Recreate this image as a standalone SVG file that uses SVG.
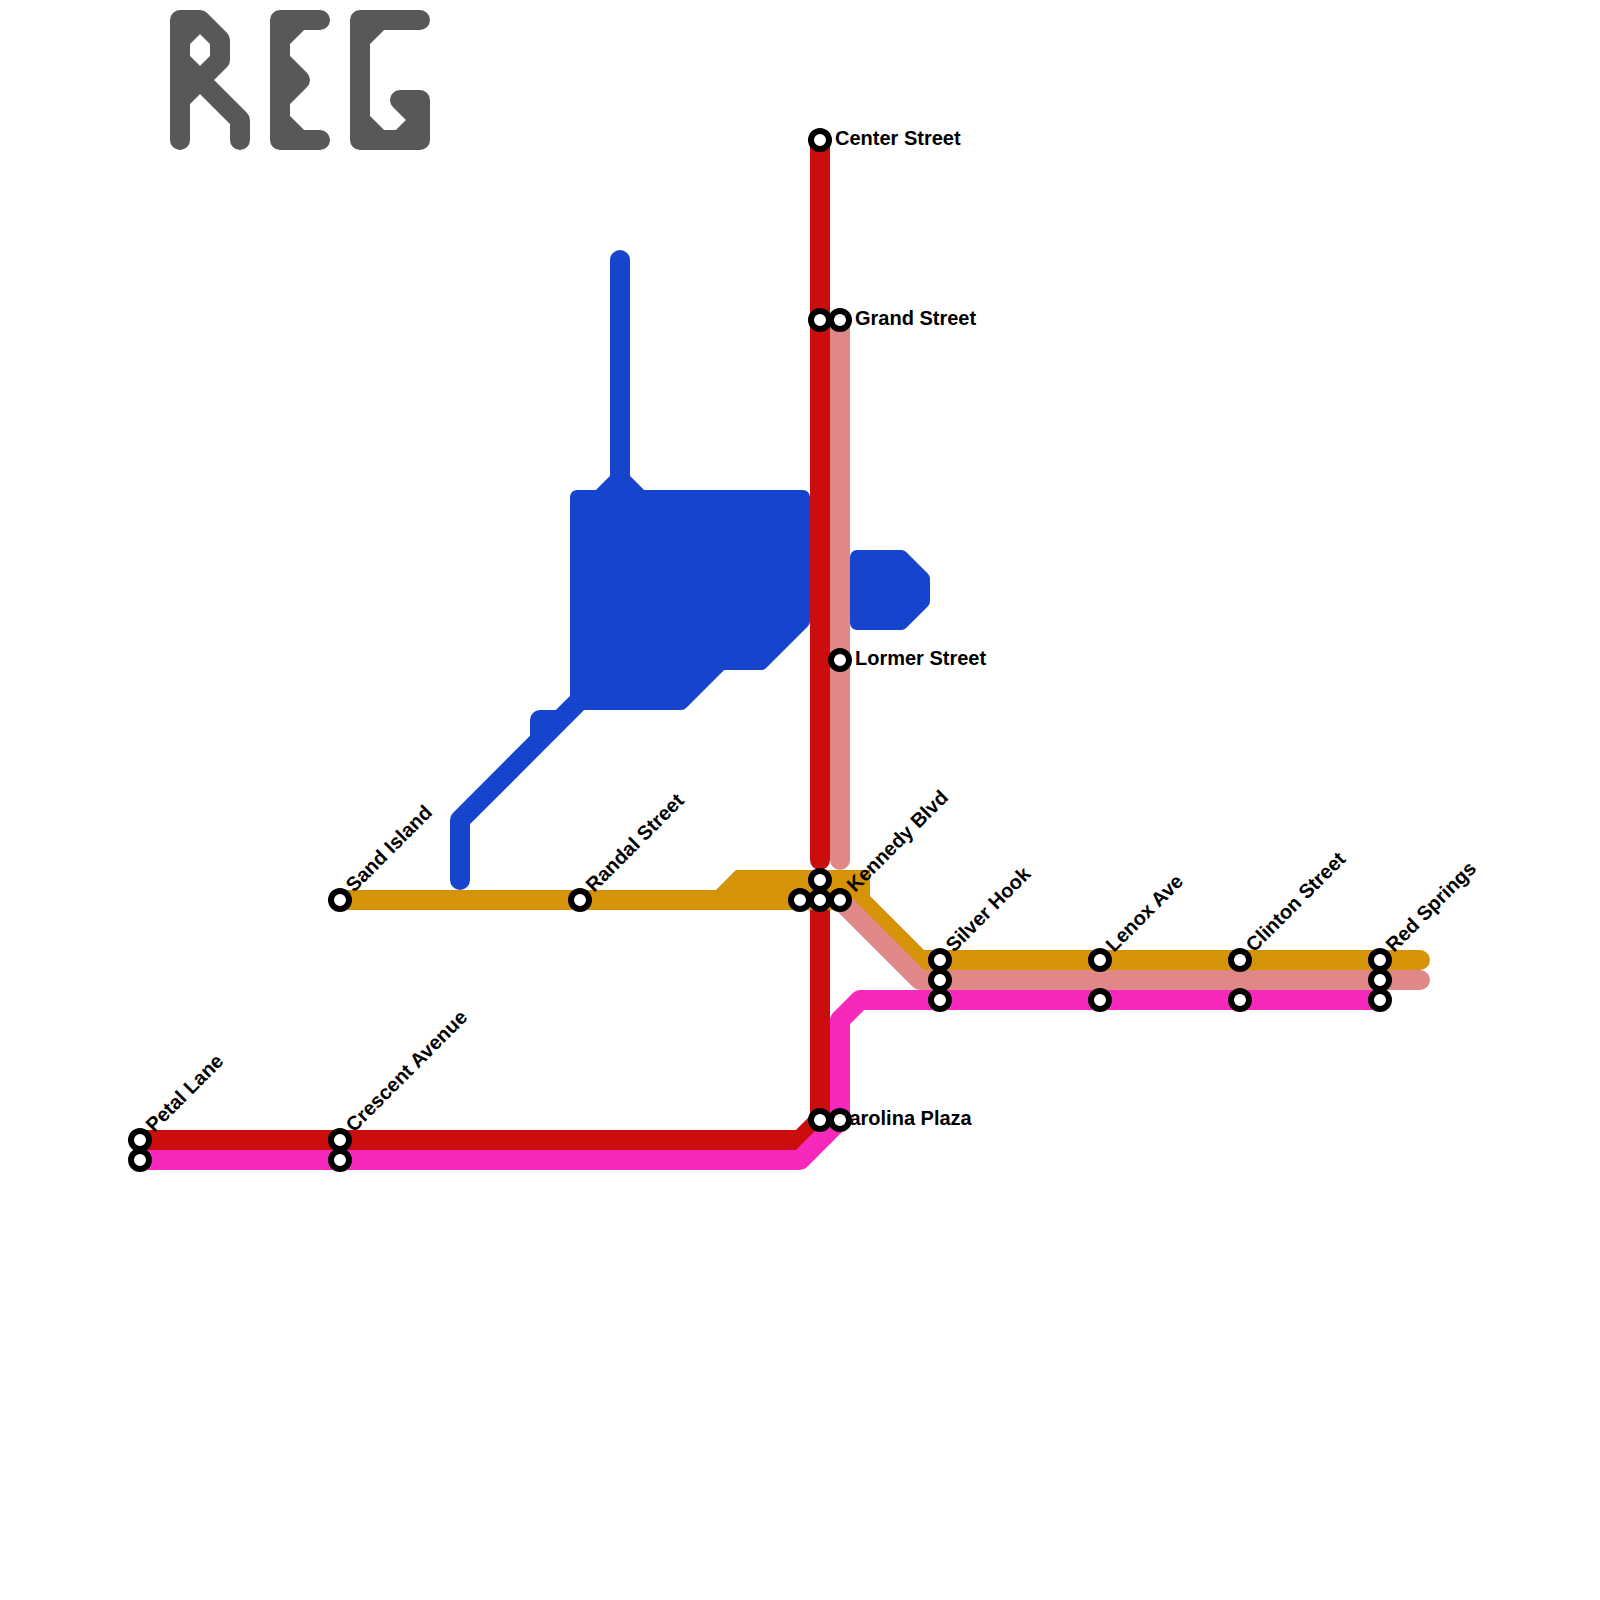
<svg xmlns="http://www.w3.org/2000/svg" width="1600" height="1600" viewBox="0 0 1600 1600">
<style>
.l{fill:none;stroke-width:20;stroke-linecap:round;stroke-linejoin:round}
.red{stroke:#cc0d0d}.sal{stroke:#e08888}.gold{stroke:#d59408;stroke-linejoin:miter}.pink{stroke:#f828bc}.blue{stroke:#1644cc}.logo{stroke:#585858}
.bf{fill:#1644cc;stroke:#1644cc;stroke-width:14;stroke-linejoin:round}
.s{fill:#fff;stroke:#000;stroke-width:6}
text{font-family:"Liberation Sans",Arial,sans-serif;font-size:20px;font-weight:700;fill:#000}
</style>
<rect width="1600" height="1600" fill="#fff"/>
<g id="logo">
<path class="l logo" d="M180,140V20H200L220,40V60L200,80L240,120V140M180,40L200,20M180,60L200,80L180,100"/>
<path class="l logo" d="M320,20H280V140H320M280,40L300,20M280,60L300,80L280,100M280,120L300,140"/>
<path class="l logo" d="M420,20H360V140H420V100H400L420,120L400,140M360,40L380,20M360,120L380,140"/>
</g>
<g id="connectors">
<path class="l blue" d="M620,260V480M600,500L620,480L640,500"/>
<path class="bf" d="M577,703V497H803V621.2L761.2,663H721.2L681.2,703Z"/>
<path class="l blue" d="M460,880V820L580,700M540,740V720H560"/>
<path class="bf" d="M857,557H901.2L923,578.8V601.2L901.2,623H857Z"/>
<path class="l red" d="M820,140V860M820,900V1120L800,1140H140"/>
<path class="l gold" d="M340,900H720L740,880H860V900L920,960H1420M720,900H860"/>
<path class="l sal" d="M840,320V860M840,900L920,980H1420"/>
<path class="l pink" d="M1380,1000H860L840,1020V1120L800,1160H140"/>
</g>
<g id="center-street"><circle class="s" cx="820" cy="140" r="9"/><text x="835" y="145">Center Street</text></g>
<g id="grand-street"><circle class="s" cx="820" cy="320" r="9"/><circle class="s" cx="840" cy="320" r="9"/><text x="855" y="325">Grand Street</text></g>
<g id="lormer-street"><circle class="s" cx="840" cy="660" r="9"/><text x="855" y="665">Lormer Street</text></g>
<g id="kennedy-blvd"><circle class="s" cx="820" cy="880" r="9"/><circle class="s" cx="800" cy="900" r="9"/><circle class="s" cx="820" cy="900" r="9"/><circle class="s" cx="840" cy="900" r="9"/><text transform="translate(855,893) rotate(-45)">Kennedy Blvd</text></g>
<g id="sand-island"><circle class="s" cx="340" cy="900" r="9"/><text transform="translate(354,893) rotate(-45)">Sand Island</text></g>
<g id="randal-street"><circle class="s" cx="580" cy="900" r="9"/><text transform="translate(594,893) rotate(-45)">Randal Street</text></g>
<g id="silver-hook"><circle class="s" cx="940" cy="960" r="9"/><circle class="s" cx="940" cy="980" r="9"/><circle class="s" cx="940" cy="1000" r="9"/><text transform="translate(954,953) rotate(-45)">Silver Hook</text></g>
<g id="lenox-ave"><circle class="s" cx="1100" cy="960" r="9"/><circle class="s" cx="1100" cy="1000" r="9"/><text transform="translate(1114,953) rotate(-45)">Lenox Ave</text></g>
<g id="clinton-street"><circle class="s" cx="1240" cy="960" r="9"/><circle class="s" cx="1240" cy="1000" r="9"/><text transform="translate(1254,953) rotate(-45)">Clinton Street</text></g>
<g id="red-springs"><circle class="s" cx="1380" cy="960" r="9"/><circle class="s" cx="1380" cy="980" r="9"/><circle class="s" cx="1380" cy="1000" r="9"/><text transform="translate(1394,953) rotate(-45)">Red Springs</text></g>
<g id="carolina-plaza"><text x="835" y="1125">Carolina Plaza</text><circle class="s" cx="820" cy="1120" r="9"/><circle class="s" cx="840" cy="1120" r="9"/></g>
<g id="petal-lane"><circle class="s" cx="140" cy="1140" r="9"/><circle class="s" cx="140" cy="1160" r="9"/><text transform="translate(154,1133) rotate(-45)">Petal Lane</text></g>
<g id="crescent-avenue"><circle class="s" cx="340" cy="1140" r="9"/><circle class="s" cx="340" cy="1160" r="9"/><text transform="translate(354,1133) rotate(-45)">Crescent Avenue</text></g>
</svg>
